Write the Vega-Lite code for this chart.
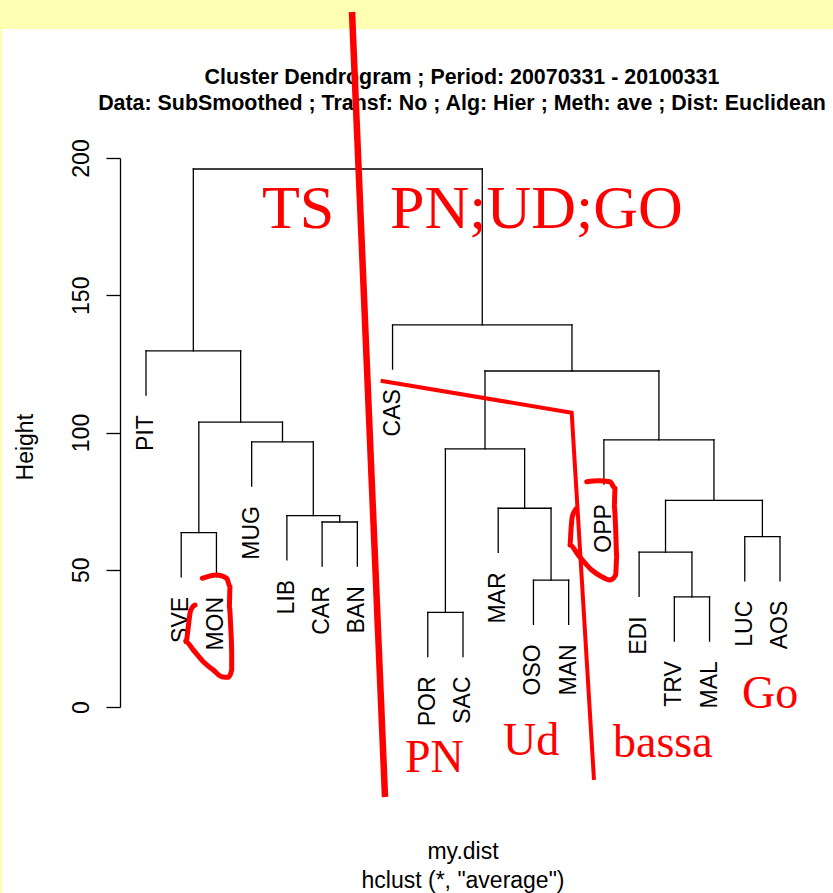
{
  "$schema": "https://vega.github.io/schema/vega-lite/v6.json",
  "width": 713,
  "height": 549,
  "autosize": {"type": "none"},
  "padding": {"left": 120, "top": 158, "right": 0, "bottom": 186},
  "background": "white",
  "config": {"view": {"stroke": null}},
  "datasets": {
    "one": [{"id": 1}],
    "merges": [
      {"xl": 2, "xr": 3, "h": 63.5, "hl": 47.4, "hr": 47.4},
      {"xl": 6, "xr": 7, "h": 67.4, "hl": 51.3, "hr": 51.3},
      {"xl": 5, "xr": 6.5, "h": 69.7, "hl": 53.6, "hr": 67.4},
      {"xl": 4, "xr": 5.75, "h": 96.6, "hl": 80.5, "hr": 69.7},
      {"xl": 2.5, "xr": 4.875, "h": 103.8, "hl": 63.5, "hr": 96.6},
      {"xl": 1, "xr": 3.6875, "h": 129.7, "hl": 113.6, "hr": 103.8},
      {"xl": 9, "xr": 10, "h": 34.5, "hl": 18.4, "hr": 18.4},
      {"xl": 12, "xr": 13, "h": 46.2, "hl": 30.1, "hr": 30.1},
      {"xl": 11, "xr": 12.5, "h": 72.4, "hl": 56.3, "hr": 46.2},
      {"xl": 9.5, "xr": 11.75, "h": 94.0, "hl": 34.5, "hr": 72.4},
      {"xl": 16, "xr": 17, "h": 40.1, "hl": 24.0, "hr": 24.0},
      {"xl": 15, "xr": 16.5, "h": 56.4, "hl": 40.3, "hr": 40.1},
      {"xl": 18, "xr": 19, "h": 62.1, "hl": 46.0, "hr": 46.0},
      {"xl": 15.75, "xr": 18.5, "h": 75.3, "hl": 56.4, "hr": 62.1},
      {"xl": 14, "xr": 17.125, "h": 97.3, "hl": 81.2, "hr": 75.3},
      {"xl": 10.625, "xr": 15.5625, "h": 122.4, "hl": 94.0, "hr": 97.3},
      {"xl": 8, "xr": 13.09375, "h": 139.2, "hl": 123.1, "hr": 122.4},
      {"xl": 2.34375, "xr": 10.546875, "h": 196.0, "hl": 129.7, "hr": 139.2}
    ],
    "leaves": [
      {"pos": 1, "label": "PIT", "end": 113.6},
      {"pos": 2, "label": "SVE", "end": 47.4},
      {"pos": 3, "label": "MON", "end": 47.4},
      {"pos": 4, "label": "MUG", "end": 80.5},
      {"pos": 5, "label": "LIB", "end": 53.6},
      {"pos": 6, "label": "CAR", "end": 51.3},
      {"pos": 7, "label": "BAN", "end": 51.3},
      {"pos": 8, "label": "CAS", "end": 123.1},
      {"pos": 9, "label": "POR", "end": 18.4},
      {"pos": 10, "label": "SAC", "end": 18.4},
      {"pos": 11, "label": "MAR", "end": 56.3},
      {"pos": 12, "label": "OSO", "end": 30.1},
      {"pos": 13, "label": "MAN", "end": 30.1},
      {"pos": 14, "label": "OPP", "end": 81.2},
      {"pos": 15, "label": "EDI", "end": 40.3},
      {"pos": 16, "label": "TRV", "end": 24.0},
      {"pos": 17, "label": "MAL", "end": 24.0},
      {"pos": 18, "label": "LUC", "end": 46.0},
      {"pos": 19, "label": "AOS", "end": 46.0}
    ],
    "strokes": [
      {"part": "divider", "seq": 1, "x": 6.849, "y": 253.19},
      {"part": "divider", "seq": 2, "x": 7.786, "y": -32.79},
      {"part": "boundary", "seq": 1, "x": 7.663, "y": 118.87},
      {"part": "boundary", "seq": 2, "x": 13.086, "y": 107.21},
      {"part": "boundary", "seq": 3, "x": 13.719, "y": -26.59},
      {"part": "MON", "seq": 1, "x": 2.598, "y": 46.89},
      {"part": "MON", "seq": 2, "x": 3.007, "y": 48.09},
      {"part": "MON", "seq": 3, "x": 3.291, "y": 46.89},
      {"part": "MON", "seq": 4, "x": 3.385, "y": 43.83},
      {"part": "MON", "seq": 5, "x": 3.365, "y": 36.54},
      {"part": "MON", "seq": 6, "x": 3.405, "y": 29.25},
      {"part": "MON", "seq": 7, "x": 3.433, "y": 19.56},
      {"part": "MON", "seq": 8, "x": 3.433, "y": 13.48},
      {"part": "MON", "seq": 9, "x": 3.337, "y": 10.82},
      {"part": "MON", "seq": 10, "x": 3.149, "y": 11.04},
      {"part": "MON", "seq": 11, "x": 2.911, "y": 13.48},
      {"part": "MON", "seq": 12, "x": 2.627, "y": 16.5},
      {"part": "MON", "seq": 13, "x": 2.343, "y": 20.77},
      {"part": "MON", "seq": 14, "x": 2.136, "y": 23.79},
      {"part": "MON", "seq": 15, "x": 2.201, "y": 29.25},
      {"part": "MON", "seq": 16, "x": 2.249, "y": 34.13},
      {"part": "MON", "seq": 17, "x": 2.297, "y": 35.96},
      {"part": "MON", "seq": 18, "x": 2.391, "y": 37.16},
      {"part": "OPP", "seq": 1, "x": 13.512, "y": 82.08},
      {"part": "OPP", "seq": 2, "x": 13.841, "y": 82.44},
      {"part": "OPP", "seq": 3, "x": 14.174, "y": 82.08},
      {"part": "OPP", "seq": 4, "x": 14.316, "y": 79.67},
      {"part": "OPP", "seq": 5, "x": 14.296, "y": 72.97},
      {"part": "OPP", "seq": 6, "x": 14.335, "y": 64.48},
      {"part": "OPP", "seq": 7, "x": 14.364, "y": 54.75},
      {"part": "OPP", "seq": 8, "x": 14.335, "y": 48.09},
      {"part": "OPP", "seq": 9, "x": 14.174, "y": 46.27},
      {"part": "OPP", "seq": 10, "x": 13.938, "y": 47.47},
      {"part": "OPP", "seq": 11, "x": 13.654, "y": 49.91},
      {"part": "OPP", "seq": 12, "x": 13.274, "y": 55.37},
      {"part": "OPP", "seq": 13, "x": 13.038, "y": 59.02},
      {"part": "OPP", "seq": 14, "x": 13.066, "y": 64.48},
      {"part": "OPP", "seq": 15, "x": 13.103, "y": 69.33},
      {"part": "OPP", "seq": 16, "x": 13.228, "y": 72.39}
    ],
    "notes": [
      {"label": "TS", "x": 4.293, "y": 174.5, "kind": "big"},
      {"label": "PN;UD;GO", "x": 7.928, "y": 174.5, "kind": "big"},
      {"label": "PN", "x": 8.353, "y": -23.68, "kind": "small"},
      {"label": "Ud", "x": 11.136, "y": -17.49, "kind": "small"},
      {"label": "bassa", "x": 14.259, "y": -18.21, "kind": "small"},
      {"label": "Go", "x": 17.921, "y": -0.36, "kind": "small"}
    ]
  },
  "layer": [
    {
      "data": {"name": "one"},
      "mark": {"type": "rect", "color": "#FFFFB3"},
      "encoding": {
        "x": {"datum": -4, "type": "quantitative",
          "scale": {"domain": [0.2618, 20.5049], "nice": false, "zero": false},
          "axis": {"orient": "bottom", "domain": false, "ticks": false, "labels": false, "grid": false,
            "title": ["my.dist", "hclust (*, \"average\")"],
            "titleFont": "Liberation Sans", "titleFontSize": 23, "titleFontWeight": "normal", "titleColor": "black",
            "titleLineHeight": 29, "titleBaseline": "alphabetic", "titleAlign": "center", "titleX": 342.5, "titleY": 151}},
        "x2": {"datum": 21},
        "y": {"datum": 247.0, "type": "quantitative",
          "scale": {"domain": [0, 200], "nice": false, "zero": false},
          "axis": {"orient": "left", "values": [0, 50, 100, 150, 200], "grid": false,
            "domainColor": "black", "domainWidth": 1.3, "tickColor": "black", "tickWidth": 1.3, "tickSize": 14,
            "labelFont": "Liberation Sans", "labelFontSize": 23, "labelColor": "black", "labelAngle": 270,
            "labelAlign": "center", "labelBaseline": "bottom", "labelPadding": 13, "labelFlush": false, "labelOverlap": false,
            "title": "Height", "titleFont": "Liberation Sans", "titleFontSize": 23, "titleFontWeight": "normal", "titleColor": "black",
            "titleAngle": 270, "titleAlign": "center", "titleBaseline": "alphabetic", "titleX": -88, "titleY": 288.7}},
        "y2": {"datum": 262}
      }
    },
    {
      "data": {"name": "one"},
      "mark": {"type": "rect", "color": "#FFFFB3"},
      "encoding": {
        "x": {"datum": -3.5, "type": "quantitative"},
        "x2": {"datum": -3.088},
        "y": {"datum": -70, "type": "quantitative"},
        "y2": {"datum": 247.0}
      }
    },
    {
      "data": {"name": "merges"},
      "mark": {"type": "rule", "color": "black", "strokeWidth": 1.3, "strokeCap": "square"},
      "encoding": {
        "x": {"field": "xl", "type": "quantitative"},
        "x2": {"field": "xr"},
        "y": {"field": "h", "type": "quantitative"}
      }
    },
    {
      "data": {"name": "merges"},
      "mark": {"type": "rule", "color": "black", "strokeWidth": 1.3, "strokeCap": "square"},
      "encoding": {
        "x": {"field": "xl", "type": "quantitative"},
        "y": {"field": "hl", "type": "quantitative"},
        "y2": {"field": "h"}
      }
    },
    {
      "data": {"name": "merges"},
      "mark": {"type": "rule", "color": "black", "strokeWidth": 1.3, "strokeCap": "square"},
      "encoding": {
        "x": {"field": "xr", "type": "quantitative"},
        "y": {"field": "hr", "type": "quantitative"},
        "y2": {"field": "h"}
      }
    },
    {
      "data": {"name": "leaves"},
      "mark": {"type": "text", "font": "Liberation Sans", "fontSize": 23, "color": "black",
        "angle": 270, "align": "right", "baseline": "middle", "dx": -20},
      "encoding": {
        "x": {"field": "pos", "type": "quantitative"},
        "y": {"field": "end", "type": "quantitative"},
        "text": {"field": "label"}
      }
    },
    {
      "data": {"name": "one"},
      "mark": {"type": "text", "font": "Liberation Sans", "fontSize": 21.4, "fontWeight": "bold", "color": "black",
        "align": "center", "baseline": "alphabetic", "lineHeight": 26.5,
        "text": ["Cluster Dendrogram ; Period: 20070331 - 20100331", "Data: SubSmoothed ; Transf: No ; Alg: Hier ; Meth: ave ; Dist: Euclidean"]},
      "encoding": {
        "x": {"datum": 9.972, "type": "quantitative"},
        "y": {"datum": 227.14, "type": "quantitative"}
      }
    },
    {
      "data": {"name": "strokes"},
      "transform": [{"filter": "datum.part === 'divider'"}],
      "mark": {"type": "line", "color": "#FF0000", "strokeWidth": 6.5, "strokeCap": "butt"},
      "encoding": {
        "x": {"field": "x", "type": "quantitative"},
        "y": {"field": "y", "type": "quantitative"},
        "order": {"field": "seq"},
        "detail": {"field": "part"}
      }
    },
    {
      "data": {"name": "strokes"},
      "transform": [{"filter": "datum.part === 'boundary'"}],
      "mark": {"type": "line", "color": "#FF0000", "strokeWidth": 4, "strokeCap": "butt", "strokeJoin": "miter"},
      "encoding": {
        "x": {"field": "x", "type": "quantitative"},
        "y": {"field": "y", "type": "quantitative"},
        "order": {"field": "seq"},
        "detail": {"field": "part"}
      }
    },
    {
      "data": {"name": "strokes"},
      "transform": [{"filter": "datum.part === 'MON' || datum.part === 'OPP'"}],
      "mark": {"type": "line", "color": "#FF0000", "strokeWidth": 5, "strokeCap": "round", "strokeJoin": "round", "interpolate": "monotone"},
      "encoding": {
        "x": {"field": "x", "type": "quantitative"},
        "y": {"field": "y", "type": "quantitative"},
        "order": {"field": "seq"},
        "detail": {"field": "part"}
      }
    },
    {
      "data": {"name": "notes"},
      "transform": [{"filter": "datum.kind === 'big'"}],
      "mark": {"type": "text", "font": "Liberation Serif", "fontSize": 62, "color": "#FF0000", "align": "left", "baseline": "alphabetic"},
      "encoding": {
        "x": {"field": "x", "type": "quantitative"},
        "y": {"field": "y", "type": "quantitative"},
        "text": {"field": "label"}
      }
    },
    {
      "data": {"name": "notes"},
      "transform": [{"filter": "datum.kind === 'small'"}],
      "mark": {"type": "text", "font": "Liberation Serif", "fontSize": 46, "color": "#FF0000", "align": "left", "baseline": "alphabetic"},
      "encoding": {
        "x": {"field": "x", "type": "quantitative"},
        "y": {"field": "y", "type": "quantitative"},
        "text": {"field": "label"}
      }
    }
  ]
}
